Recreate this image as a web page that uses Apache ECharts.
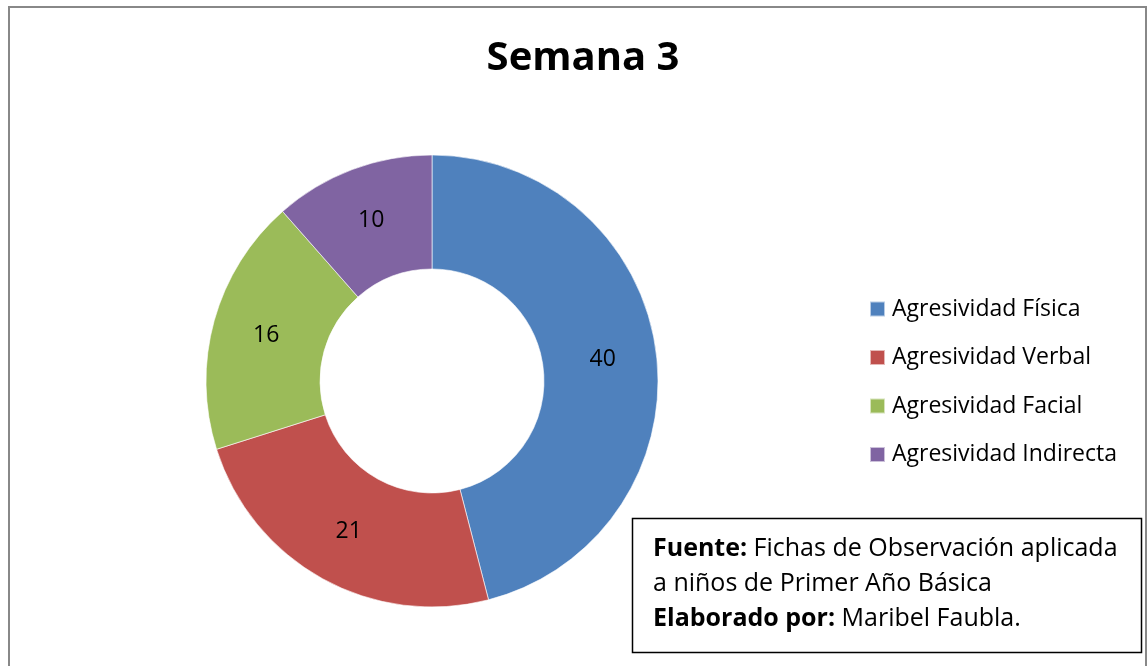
<!DOCTYPE html>
<html>
<head>
<meta charset="utf-8">
<script src="https://cdn.jsdelivr.net/npm/echarts@6/dist/echarts.min.js"></script>
<style>
  html, body { margin: 0; padding: 0; background: #fff; }
  #chart { width: 1148px; height: 666px; }
</style>
</head>
<body>
<div id="chart"></div>
<script>
// datos de la gráfica
const categories = ['Agresividad Física', 'Agresividad Verbal', 'Agresividad Facial', 'Agresividad Indirecta']
const values = [40, 21, 16, 10]
const titleText = 'Semana 3'
const sourceLines = [
  ['Fuente:', ' Fichas de Observación aplicada'],
  ['', 'a niños de Primer Año Básica'],
  ['Elaborado por:', ' Maribel Faubla.']
]

const FONT = '"Open Sans", "Noto Sans", sans-serif'

const chart = echarts.init(document.getElementById('chart'))

// texto de la fuente con negrita
const sourceText = sourceLines
  .map(([b, n]) => (b ? '{b|' + b + '}' : '') + '{n|' + n + '}')
  .join('\n')

chart.setOption({
  animation: false,
  color: ['#4F81BD', '#C0504D', '#9BBB59', '#8064A2'],
  title: {
    text: titleText,
    left: 578,
    textAlign: 'center',
    top: 34,
    textStyle: {
      fontFamily: FONT,
      fontSize: 40,
      fontWeight: 'bold',
      color: '#000'
    }
  },
  legend: {
    orient: 'vertical',
    left: 869,
    top: 297,
    padding: 0,
    icon: 'rect',
    itemWidth: 15,
    itemHeight: 15,
    itemGap: 24.5,
    data: categories,
    textStyle: {
      fontFamily: FONT,
      fontSize: 23,
      lineHeight: 24,
      color: '#000',
      padding: [0, 0, 0, 2]
    }
  },
  series: [{
    type: 'pie',
    center: [432, 381],
    radius: [112, 226],
    startAngle: 90,
    clockwise: true,
    avoidLabelOverlap: false,
    itemStyle: {
      borderColor: 'rgba(255,255,255,0.6)',
      borderWidth: 1
    },
    label: {
      show: true,
      position: 'inside',
      formatter: '{c}',
      fontFamily: FONT,
      fontSize: 23,
      color: '#000'
    },
    labelLine: { show: false },
    emphasis: { disabled: true },
    data: categories.map((name, i) => ({ name, value: values[i] }))
  }],
  graphic: [
    {
      // marco exterior
      type: 'rect',
      silent: true,
      z: -1,
      shape: { x: 9, y: 7, width: 1137, height: 700 },
      style: { fill: 'none', stroke: '#888', lineWidth: 2 }
    },
    {
      // cuadro de la fuente
      type: 'rect',
      silent: true,
      shape: { x: 632.5, y: 518.5, width: 509, height: 134 },
      style: { fill: '#fff', stroke: '#000', lineWidth: 1.5 }
    },
    {
      type: 'text',
      silent: true,
      left: 653,
      top: 536,
      style: {
        text: sourceText,
        fontFamily: FONT,
        fontSize: 25,
        fill: '#000',
        rich: {
          b: { fontFamily: FONT, fontSize: 25, fontWeight: 'bold', lineHeight: 35, fill: '#000' },
          n: { fontFamily: FONT, fontSize: 25, lineHeight: 35, fill: '#000' }
        }
      }
    }
  ]
})
</script>
</body>
</html>
